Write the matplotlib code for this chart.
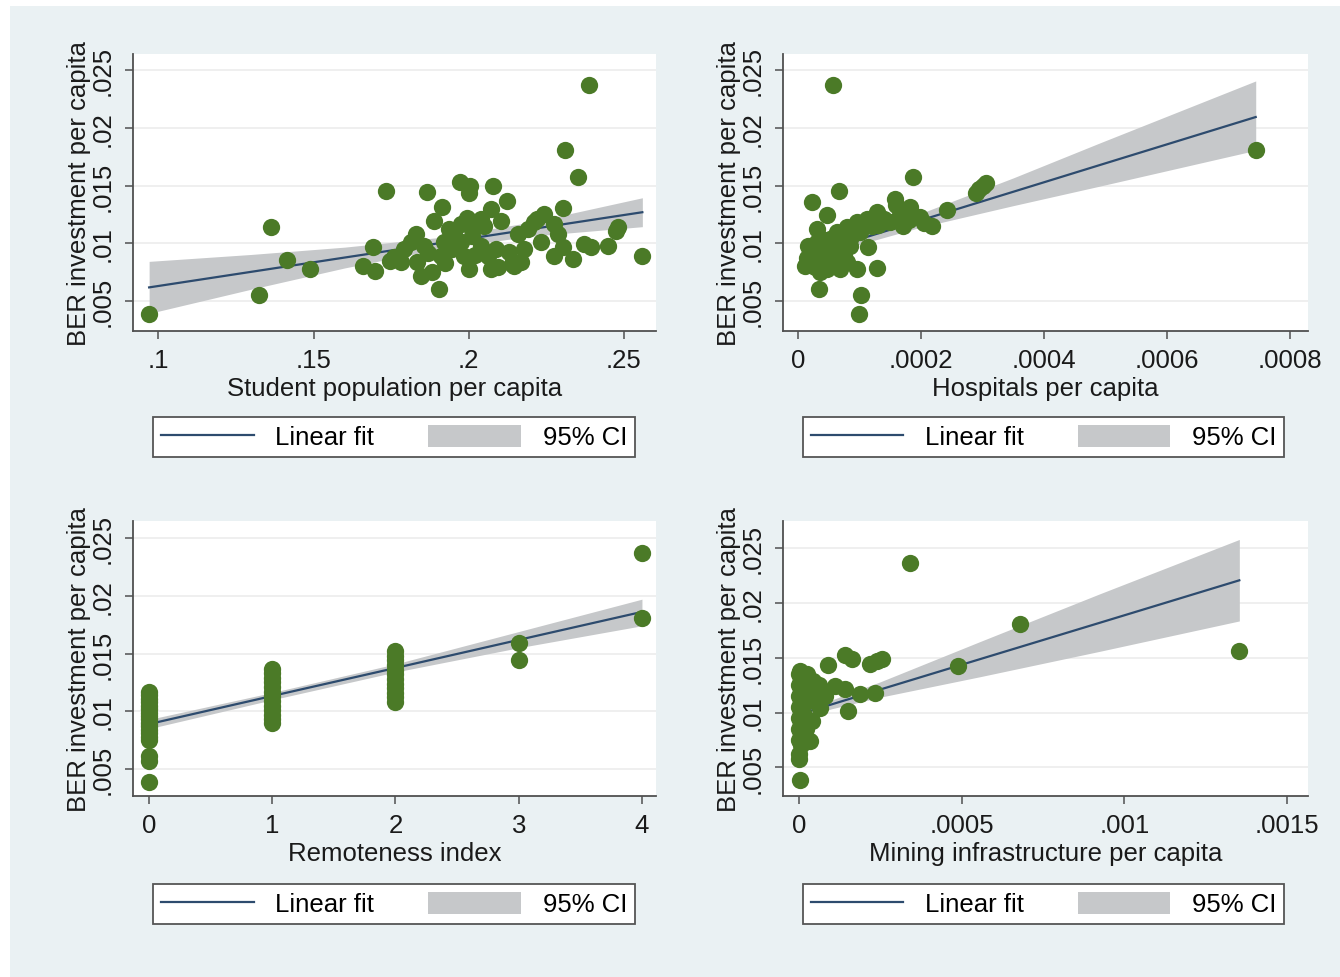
import numpy as np
import matplotlib.pyplot as plt
from matplotlib.lines import Line2D
from matplotlib.patches import Patch, Rectangle

plt.rcParams['font.family'] = ['Liberation Sans', 'DejaVu Sans']

W, H = 1340, 978
FS = 18.5
GREEN = '#4b7a27'
NAVY = '#2d4b6e'
CI_GREY = '#c6c8ca'
BG = '#eaf1f3'
YLAB = 'BER investment per capita'

# --- student population panel
stud_x = [0.0968, 0.1325, 0.1363, 0.1415, 0.1490, 0.1658, 0.1693, 0.1699, 0.1732, 0.1748,
          0.1759, 0.1781, 0.1791, 0.1813, 0.1829, 0.1835, 0.1845, 0.1856, 0.1865, 0.1883,
          0.1888, 0.1904, 0.1910, 0.1915, 0.1920, 0.1937, 0.1947, 0.1972, 0.1974, 0.1975,
          0.1985, 0.2001, 0.2001, 0.2005, 0.2007, 0.2012, 0.2039, 0.2039, 0.2061, 0.2071,
          0.2071, 0.2077, 0.2088, 0.2104, 0.2125, 0.2131, 0.2147, 0.2158, 0.2168, 0.2179,
          0.2190, 0.2211, 0.2233, 0.2242, 0.2276, 0.2276, 0.2287, 0.2303, 0.2303, 0.2310,
          0.2335, 0.2351, 0.2373, 0.2389, 0.2394, 0.2448, 0.2475, 0.2482, 0.2558, 0.1955,
          0.2020, 0.2050, 0.1995, 0.2095, 0.2140, 0.2220, 0.1925, 0.1870]
stud_y = [0.00388, 0.00555, 0.01138, 0.00858, 0.00778, 0.00806, 0.00971, 0.00760, 0.01450, 0.00850,
          0.00879, 0.00836, 0.00951, 0.01009, 0.01080, 0.00836, 0.00720, 0.00980, 0.01441, 0.00749,
          0.01196, 0.00610, 0.00893, 0.01311, 0.01009, 0.01124, 0.00951, 0.01528, 0.01009, 0.01167,
          0.00893, 0.01440, 0.00778, 0.01498, 0.01138, 0.01066, 0.01210, 0.00979, 0.00893, 0.01297,
          0.00778, 0.01493, 0.00951, 0.01196, 0.01369, 0.00922, 0.00806, 0.01080, 0.00836, 0.00951,
          0.01124, 0.01182, 0.01009, 0.01253, 0.01167, 0.00893, 0.01080, 0.01303, 0.00965, 0.01807,
          0.00864, 0.01571, 0.00994, 0.02372, 0.00965, 0.00974, 0.01109, 0.01140, 0.00893, 0.01060,
          0.00900, 0.01150, 0.01220, 0.00800, 0.00820, 0.01210, 0.00830, 0.00920]
stud_fit_x = [0.097, 0.13, 0.16, 0.19, 0.22, 0.256]
stud_fit = [0.0062, 0.00755, 0.00878, 0.0100, 0.01123, 0.0127]
stud_lo = [0.00395, 0.00605, 0.00788, 0.0095, 0.01063, 0.01145]
stud_hi = [0.00845, 0.00905, 0.00968, 0.0105, 0.01183, 0.01395]

# --- hospitals panel
hosp_x = [0.0000564, 0.0001865, 0.0000672, 0.0000222, 0.0000467, 0.0001577, 0.0001821, 0.0002173,
          0.0001984, 0.0001713, 0.0002418, 0.0001496, 0.0001280, 0.0001117, 0.0000954, 0.0000792,
          0.0000629, 0.0000304, 0.0000168, 0.0000114, 0.0000341, 0.0001024, 0.0000992, 0.0001289,
          0.0000954, 0.0001143, 0.0000411, 0.0000574, 0.0000358, 0.0000737, 0.0000792, 0.0000520,
          0.0000249, 0.0000846, 0.0001008, 0.0000683, 0.0000467, 0.0000304, 0.0000629, 0.000290,
          0.000295, 0.000300, 0.000305, 0.000744, 0.000160, 0.000035, 0.000040, 0.000020,
          0.000055, 0.000070, 0.000090, 0.000105, 0.000085, 0.000060, 0.000045, 0.000028,
          0.000075, 0.000014, 0.000120, 0.000140, 0.000130, 0.000165, 0.000180, 0.000205]
hosp_y = [0.02372, 0.01576, 0.01450, 0.01360, 0.01245, 0.01383, 0.01311, 0.01152,
          0.01225, 0.01152, 0.01291, 0.01182, 0.01268, 0.01210, 0.01182, 0.01138,
          0.01095, 0.01124, 0.00979, 0.00806, 0.00610, 0.00555, 0.00388, 0.00786,
          0.00778, 0.00965, 0.00922, 0.00836, 0.00749, 0.00951, 0.00836, 0.01037,
          0.00864, 0.01037, 0.01095, 0.00778, 0.00778, 0.01009, 0.00951, 0.01440,
          0.01470, 0.01500, 0.01520, 0.01810, 0.01330, 0.01050, 0.00880, 0.00920,
          0.00900, 0.01030, 0.01120, 0.01180, 0.00980, 0.00830, 0.00960, 0.00800,
          0.00890, 0.00870, 0.01150, 0.01210, 0.01160, 0.01250, 0.01200, 0.01180]
hosp_fit_x = [0.000005, 0.00007, 0.0002, 0.00035, 0.00049, 0.000744]
hosp_fit = [0.00881, 0.00988, 0.01201, 0.01447, 0.01677, 0.02093]
hosp_lo = [0.00831, 0.00948, 0.01141, 0.01327, 0.01495, 0.01805]
hosp_hi = [0.00931, 0.01028, 0.01261, 0.01567, 0.01868, 0.02405]

# --- remoteness panel
remote_x = [0] * 18 + [1] * 13 + [2] * 12 + [3] * 2 + [4] * 2
remote_y = [0.0117, 0.0114, 0.0111, 0.0108, 0.0105, 0.0102, 0.0099, 0.0096, 0.0093, 0.0090,
            0.0087, 0.0084, 0.0081, 0.0078, 0.0075, 0.0061, 0.0057, 0.0039,
            0.0137, 0.0133, 0.0129, 0.0125, 0.0121, 0.0117, 0.0113, 0.0109, 0.0105, 0.0101,
            0.0097, 0.0093, 0.0090,
            0.0152, 0.0148, 0.0144, 0.0140, 0.0136, 0.0132, 0.0128, 0.0124, 0.0120, 0.0116,
            0.0112, 0.0108,
            0.0159, 0.0144,
            0.0237, 0.0181]
remote_fit_x = [0, 1, 2, 3, 4]
remote_fit = [0.0089, 0.01133, 0.01375, 0.01618, 0.0186]
remote_lo = [0.0085, 0.0110, 0.0134, 0.0155, 0.0174]
remote_hi = [0.0093, 0.01163, 0.0141, 0.0169, 0.0197]

# --- mining panel
mine_x = [0.000341, 0.000490, 0.000679, 0.001353, 0.000090, 0.000141, 0.000162, 0.000218,
          0.000239, 0.000254, 0.000111, 0.000141, 0.000187, 0.000234, 0.000152, 0.000003,
          0.0, 0.0, 0.000034, 0.0000645, 0.000080, 0.000044, 0.000024, 0.000003,
          0.000039, 0.0000286, 0.0, 0.000005, 0.0, 0.000010, 0.0, 0.000005,
          0.0, 0.000010, 0.0, 0.000005, 0.0, 0.000010, 0.0, 0.000005,
          0.000020, 0.000015, 0.000020, 0.000050, 0.000060, 0.000030]
mine_y = [0.02365, 0.01422, 0.01802, 0.01561, 0.01429, 0.01528, 0.01483, 0.01438,
          0.01467, 0.01483, 0.01241, 0.01212, 0.01166, 0.01181, 0.01015, 0.00382,
          0.00579, 0.00624, 0.00744, 0.01045, 0.01151, 0.01287, 0.01347, 0.01377,
          0.00925, 0.01106, 0.01350, 0.01300, 0.01250, 0.01200, 0.01150, 0.01100,
          0.01050, 0.01000, 0.00950, 0.00900, 0.00850, 0.00800, 0.00750, 0.00700,
          0.01220, 0.00980, 0.00850, 0.01180, 0.01250, 0.01280]
mine_fit_x = [0.000003, 0.0001, 0.00025, 0.000556, 0.000925, 0.001353]
mine_fit = [0.00987, 0.01074, 0.0121, 0.01486, 0.01818, 0.02204]
mine_lo = [0.00947, 0.01034, 0.0114, 0.01326, 0.01558, 0.01834]
mine_hi = [0.01027, 0.01114, 0.0128, 0.01646, 0.02082, 0.02576]

y_ticks = [0.005, 0.01, 0.015, 0.02, 0.025]
y_labels = ['.005', '.01', '.015', '.02', '.025']


def px_axes(fig, left, top, right, bottom):
    return fig.add_axes([left / W, 1 - bottom / H, (right - left) / W, (bottom - top) / H])


def panel(fig, box, xs, ys, fx, fy, lo, hi, xlim, ylim, xticks, xlabels, xlabel, legend_xy):
    ax = px_axes(fig, *box)
    ax.set_facecolor('white')
    ax.fill_between(fx, lo, hi, color=CI_GREY, lw=0, zorder=1)
    ax.plot(fx, fy, color=NAVY, lw=1.6, zorder=2)
    ax.scatter(xs, ys, s=155, color=GREEN, lw=0, zorder=3)
    ax.set_xlim(*xlim)
    ax.set_ylim(*ylim)
    ax.set_xticks(xticks)
    ax.set_xticklabels(xlabels)
    ax.set_yticks(y_ticks)
    ax.set_yticklabels(y_labels, rotation=90, va='center')
    ax.yaxis.grid(True, color='#ececec', lw=1.2)
    ax.set_axisbelow(True)
    for s in ['top', 'right']:
        ax.spines[s].set_visible(False)
    for s in ['left', 'bottom']:
        ax.spines[s].set_color('#505050')
        ax.spines[s].set_linewidth(1.3)
    ax.tick_params(direction='out', length=6, width=1.1, color='#505050',
                   labelsize=FS, labelcolor='#1a1a1a')
    ax.tick_params(axis='x', pad=6)
    ax.tick_params(axis='y', pad=7)
    ax.set_xlabel(xlabel, fontsize=FS, color='#1a1a1a', labelpad=3)
    ax.set_ylabel(YLAB, fontsize=FS, color='#1a1a1a', labelpad=0)

    handles = [Line2D([], [], color=NAVY, lw=1.6), Patch(facecolor=CI_GREY, edgecolor='none')]
    leg = ax.legend(handles, ['Linear fit', '95% CI'], ncol=2, loc='center',
                    bbox_to_anchor=(legend_xy[0] / W, 1 - legend_xy[1] / H),
                    bbox_transform=fig.transFigure, fontsize=FS, frameon=True,
                    fancybox=False, handlelength=3.6, handleheight=0.95,
                    handletextpad=0.85, columnspacing=2.1, borderpad=0.3)
    fr = leg.get_frame()
    fr.set_edgecolor('#555555')
    fr.set_linewidth(1.3)
    fr.set_alpha(1)
    return ax


fig = plt.figure(figsize=(W / 100, H / 100), dpi=100, facecolor='white')
fig.patches.append(Rectangle((10 / W, 0), 1 - 10 / W, 1 - 7 / H, transform=fig.transFigure,
                             facecolor=BG, edgecolor='none', zorder=-10))

panel(fig, (133, 55, 656, 332), stud_x, stud_y, stud_fit_x, stud_fit, stud_lo, stud_hi,
      (0.0918, 0.2604), (0.00243, 0.02638), [0.1, 0.15, 0.2, 0.25], ['.1', '.15', '.2', '.25'],
      'Student population per capita', (394, 438))
panel(fig, (783, 55, 1308, 332), hosp_x, hosp_y, hosp_fit_x, hosp_fit, hosp_lo, hosp_hi,
      (-0.0000244, 0.000829), (0.00243, 0.02638), [0, 0.0002, 0.0004, 0.0006, 0.0008],
      ['0', '.0002', '.0004', '.0006', '.0008'], 'Hospitals per capita', (1043.5, 438))
panel(fig, (133, 522, 656, 797), remote_x, remote_y, remote_fit_x, remote_fit, remote_lo, remote_hi,
      (-0.130, 4.114), (0.00268, 0.02646), [0, 1, 2, 3, 4], ['0', '1', '2', '3', '4'],
      'Remoteness index', (394, 905))
panel(fig, (783, 522, 1308, 797), mine_x, mine_y, mine_fit_x, mine_fit, mine_lo, mine_hi,
      (-0.0000492, 0.001564), (0.0024, 0.02744), [0, 0.0005, 0.001, 0.0015],
      ['0', '.0005', '.001', '.0015'], 'Mining infrastructure per capita', (1043.5, 905))

fig.savefig('out.png', dpi=100, facecolor=fig.get_facecolor())
